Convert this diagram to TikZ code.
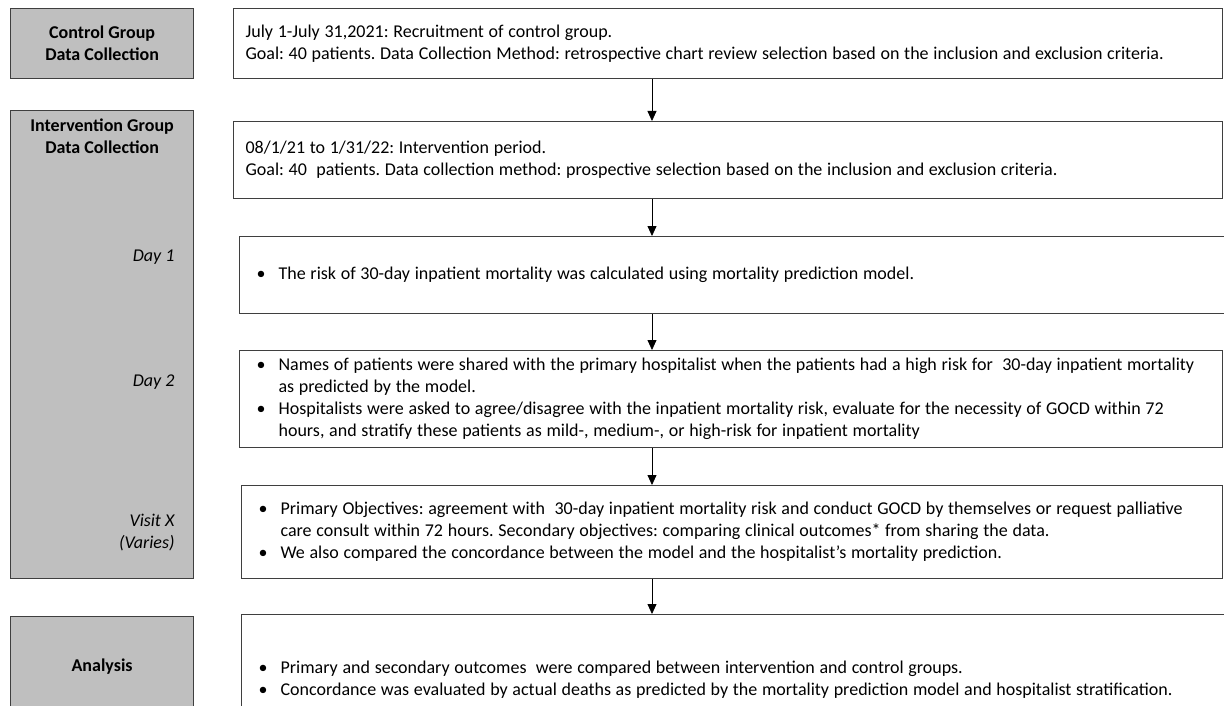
\documentclass[tikz,border=0pt]{standalone}
\usepackage{fontspec}
\setmainfont{Carlito}
\usetikzlibrary{positioning,arrows.meta}
\definecolor{headgray}{HTML}{BFBFBF}
\definecolor{edge}{HTML}{3F3F3F}
\newcommand{\bodyfont}{\fontsize{18}{22}\selectfont\setlength{\spaceskip}{4.7pt}}
\tikzset{head/.style={draw=edge,fill=headgray,line width=1.2pt,minimum width=183pt,anchor=north west},
         block/.style={draw=edge,line width=1.2pt,align=flush left,anchor=north west,inner xsep=12pt,inner ysep=0pt,font=\bodyfont},
         list/.style={block,inner xsep=17pt},
         day/.style={font=\fontsize{18}{22}\selectfont\itshape,align=right,anchor=east},
         line/.style={-{Triangle[width=9pt,length=10pt]},line width=0.8pt}
}
\newcommand{\bpt}{\makebox[22pt][l]{\textbullet}}
\newcommand{\bind}{\hspace*{22pt}}
\frenchspacing

\begin{document}
\begin{tikzpicture}[x=1pt,y=-1pt,font=\fontsize{18}{22}\selectfont]
\useasboundingbox (0,0) rectangle (1224,706);
\clip (0,0) rectangle (1224,706);

\node[head,minimum height=70pt,font=\fontsize{18}{22}\selectfont\bfseries,align=center] (ctrl) at (10,8) {Control Group\\Data Collection};
\node[head,minimum height=468pt] (intv) at (10,110) {};
\node[below=5pt of intv.north,font=\fontsize{18}{22}\selectfont\bfseries,align=center] (intvtitle) {Intervention Group\\Data Collection};
\node[day] (day1) at (178,257) {Day 1};
\node[day] (day2) at (178,382) {Day 2};
\node[day] (visit) at (178,533) {Visit X\\(Varies)};
\node[head,minimum height=100pt,font=\fontsize{18}{22}\selectfont\bfseries] (analysis) at (10,616) {Analysis};

\node[block,text width=965pt,minimum height=70pt] (recruit) at (233,8) {July 1-July 31,2021: Recruitment of control group.\\Goal: 40 patients. Data Collection Method: retrospective chart review selection based on the inclusion and exclusion criteria.};
\node[block,text width=965pt,minimum height=77pt] (period) at (233,121) {08/1/21 to 1/31/22: Intervention period.\\Goal: 40\ \ patients. Data collection method: prospective selection based on the inclusion and exclusion criteria.};
\node[list,text width=966pt,minimum height=77pt] (risk) at (239,236) {\bpt The risk of 30-day inpatient mortality was calculated using mortality prediction model.};
\node[list,text width=949pt,minimum height=97pt] (share) at (239,350) {\bpt Names of patients were shared with the primary hospitalist when the patients had a high risk for\ \ 30-day inpatient mortality\\\bind as predicted by the model.\\\bpt Hospitalists were asked to agree/disagree with the inpatient mortality risk, evaluate for the necessity of GOCD within 72\\\bind hours, and stratify these patients as mild-, medium-, or high-risk for inpatient mortality};
\node[list,text width=947pt,minimum height=93pt] (objective) at (241,485) {\bpt Primary Objectives: agreement with\ \ 30-day inpatient mortality risk and conduct GOCD by themselves or request palliative\\\bind care consult within 72 hours. Secondary objectives: comparing clinical outcomes* from sharing the data.\\\bpt We also compared the concordance between the model and the hospitalist’s mortality prediction.};
\node[list,text width=964pt,minimum height=130pt] (outcome) at (241,614) {\bpt Primary and secondary outcomes\ \ were compared between intervention and control groups.\\\bpt Concordance was evaluated by actual deaths as predicted by the mortality prediction model and hospitalist stratification.};

\coordinate (mid) at (652,0);
\draw[line] (recruit.south -| mid)--(period.north -| mid);
\draw[line] (period.south -| mid)--(risk.north -| mid);
\draw[line] (risk.south -| mid)--(share.north -| mid);
\draw[line] (share.south -| mid)--(objective.north -| mid);
\draw[line] (objective.south -| mid)--(outcome.north -| mid);

\end{tikzpicture}
\end{document}
